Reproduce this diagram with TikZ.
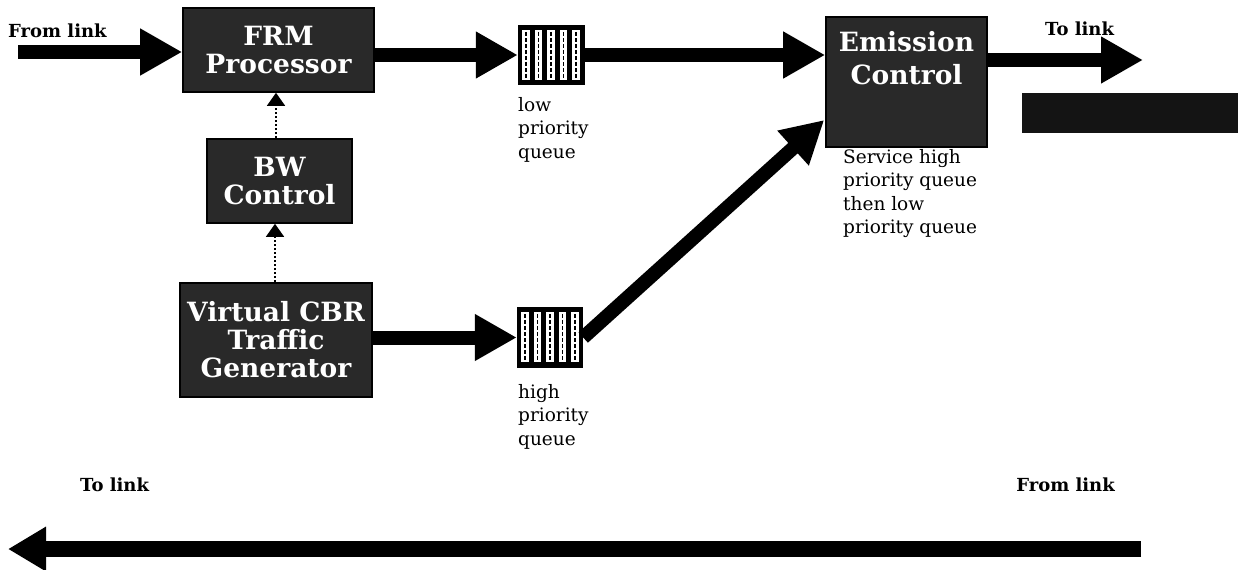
\documentclass[tikz,border=0pt]{standalone}
\usepackage{fontspec}
\setmainfont{DejaVu Serif}
\usetikzlibrary{arrows.meta,calc}

\tikzset{
  blk/.style={draw=black, line width=1.6pt, fill=black!84, text=white,
    font=\fontsize{26.5}{28}\selectfont\bfseries, align=center, inner sep=0pt},
  queuebox/.style={fill=black, inner sep=0pt, minimum width=67pt, minimum height=60pt},
  fat/.style={line width=14pt, -{Triangle[length=42pt,width=44pt]}},
  ctrl/.style={line width=1.4pt, dash pattern=on 2.5pt off 1.5pt,
    -{Triangle[length=13pt,width=18pt]}},
  lbl/.style={font=\fontsize{18}{24}\selectfont\bfseries, inner sep=0pt},
  note/.style={font=\fontsize{18.5}{23.5}\selectfont, align=left, inner sep=0pt}
}

% white slots of a queue symbol, each holding queued cells
\newcommand\queueslots[1]{%
  \foreach \i in {0,...,4}{%
    \fill[white] ($(#1.north west)+(4.5+\i*12.5,5)$) rectangle ++(7.5,50);
    \draw[black, line width=1.6pt, dash pattern=on 4pt off 2pt]
      ($(#1.north west)+(8.25+\i*12.5,7)$) -- ++(0,46);
  }%
}

\begin{document}
\begin{tikzpicture}[x=1pt, y=-1pt]
  \useasboundingbox (0,0) rectangle (1248,570);

  % processing blocks
  \node[blk, minimum width=191pt, minimum height=84pt] (frm) at (278.5,50) {FRM\\Processor};
  \node[blk, minimum width=145pt, minimum height=84pt] (bw) at (279.5,181) {BW\\Control};
  \node[blk, minimum width=192pt, minimum height=114pt] (vcbr) at (276,340) {Virtual CBR\\Traffic\\Generator};
  \node[blk, minimum width=161pt, minimum height=130pt] (emis) at (906.5,82) {};
  \node[font=\fontsize{26.5}{33}\selectfont\bfseries, text=white, align=center, anchor=north, inner sep=0pt]
    (emistxt) at ($(emis.north)+(0,15)$) {Emission\\Control};

  % queues
  \node[queuebox] (lowq) at (551.5,55) {};
  \queueslots{lowq}
  \node[queuebox, minimum width=66pt, minimum height=61pt] (highq) at (550,337.5) {};
  \queueslots{highq}

  % outgoing link bar
  \node[fill=black!92, inner sep=0pt, minimum width=216pt, minimum height=40pt] (bar) at (1130,113) {};

  % link end points
  \coordinate (inL) at (18,52);
  \coordinate (outR) at (1143,60);
  \coordinate (botR) at (1141,549);
  \coordinate (botL) at (8,549);

  % data paths
  \draw[fat] (inL) -- (inL -| frm.west);
  \draw[fat] (frm.east |- lowq.west) -- (lowq.west);
  \draw[fat] (lowq.east) -- (lowq.east -| emis.west);
  \draw[fat] (emis.east |- outR) -- (outR);
  \draw[fat] (vcbr.east |- highq.west) -- (highq.west);
  \draw[fat] (highq.east) -- ($(emis.west)+(-1,38)$);
  \draw[line width=16pt, -{Triangle[length=38pt,width=42pt]}] (botR) -- (botL);

  % control paths
  \draw[ctrl] (bw.north -| 276,0) -- (frm.south -| 276,0);
  \draw[ctrl] (vcbr.north -| 275,0) -- (bw.south -| 275,0);

  % labels
  \node[lbl, anchor=base west] (fromA) at (8,37) {From link};
  \node[lbl, anchor=base west] (toA) at (1045,35) {To link};
  \node[lbl, anchor=base west] (toB) at (80,491) {To link};
  \node[lbl, anchor=base east] (fromB) at (1115,491) {From link};
  \node[note, anchor=north west] (lowlbl) at (518,97) {low\\priority\\queue};
  \node[note, anchor=north west] (highlbl) at (518,384) {high\\priority\\queue};
  \node[note, anchor=north west] (svc) at (843,149) {Service high\\priority queue\\then low\\priority queue};
\end{tikzpicture}
\end{document}
